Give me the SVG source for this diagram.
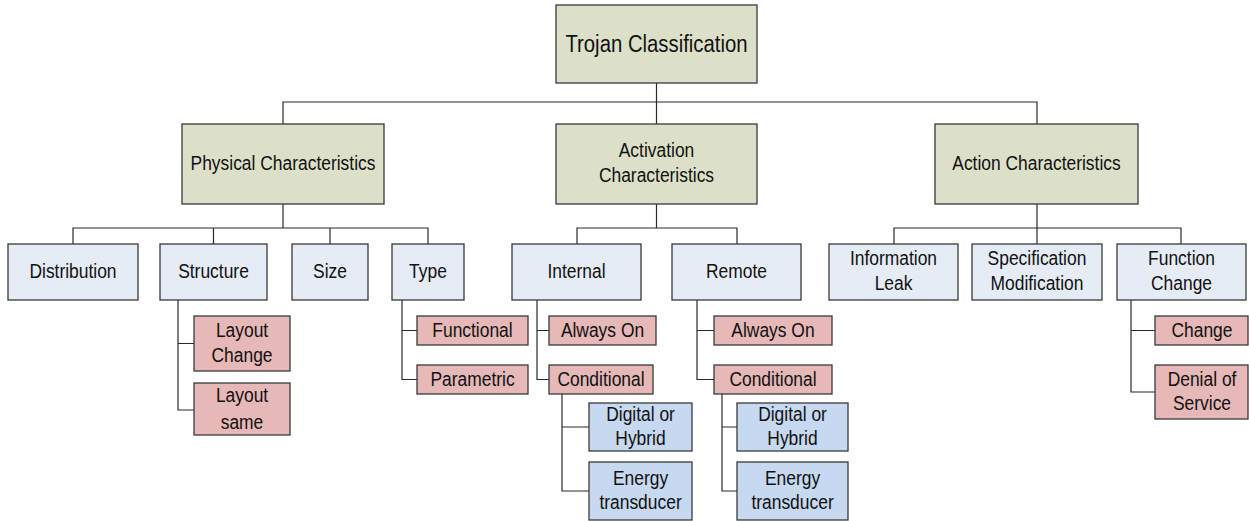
<svg xmlns="http://www.w3.org/2000/svg" width="1249" height="521" viewBox="0 0 1249 521">
  <style>
    rect { stroke: #3a3a3a; stroke-width: 1.3; }
    .g { fill: #dde0c9; }
    .b { fill: #e6ecf6; }
    .p { fill: #e6b8b7; }
    .d { fill: #c6d9f0; }
    /* narrow sans: regular face condensed horizontally about each label's centre */
    text { font-family: "Liberation Sans", Arial, sans-serif; font-size: 21px; fill: #111; text-anchor: middle;
           transform-box: fill-box; transform-origin: center; transform: scaleX(0.83); }
    .big { font-size: 24.5px; }
    #connectors path { fill: none; stroke: #2a2a2a; stroke-width: 1.2; }
  </style>

  <g id="connectors">
    <path d="M656.5 83V124M283 124V102H1037V124"/>
    <path d="M283 204V228M73 244V228H428V244M213.5 228V244M330 228V244"/>
    <path d="M656.5 204V228M577 244V228H737V244"/>
    <path d="M1037 204V244M894 244V228H1181V244"/>
    <path d="M178 300V410H194M178 343.5H194"/>
    <path d="M402 300V379.5H417M402 330.5H417"/>
    <path d="M537 300V379.5H549M537 330.5H549"/>
    <path d="M562 394V491H589M562 427H589"/>
    <path d="M697 300V379.5H714M697 330.5H714"/>
    <path d="M722 394V491H737M722 427H737"/>
    <path d="M1131 300V392H1155M1131 330.5H1155"/>
  </g>

  <g id="root"><rect class="g" x="556" y="5" width="201" height="78"/><text class="big" x="656.5" y="52">Trojan Classification</text></g>

  <g id="physical"><rect class="g" x="182" y="124" width="202" height="80"/><text x="283" y="170">Physical Characteristics</text></g>
  <g id="activation"><rect class="g" x="556" y="124" width="201" height="80"/><text x="656.5" y="157.5">Activation</text><text x="656.5" y="182.5">Characteristics</text></g>
  <g id="action"><rect class="g" x="935" y="124" width="203" height="80"/><text x="1036.5" y="170">Action Characteristics</text></g>

  <g id="distribution"><rect class="b" x="8" y="244" width="130" height="56"/><text x="73" y="278">Distribution</text></g>
  <g id="structure"><rect class="b" x="160" y="244" width="107" height="56"/><text x="213.5" y="278">Structure</text></g>
  <g id="size"><rect class="b" x="292" y="244" width="76" height="56"/><text x="330" y="278">Size</text></g>
  <g id="type"><rect class="b" x="392" y="244" width="72" height="56"/><text x="428" y="278">Type</text></g>
  <g id="internal"><rect class="b" x="512" y="244" width="129" height="56"/><text x="576.5" y="278">Internal</text></g>
  <g id="remote"><rect class="b" x="672" y="244" width="129" height="56"/><text x="736.5" y="278">Remote</text></g>
  <g id="info-leak"><rect class="b" x="829" y="244" width="129" height="56"/><text x="893.5" y="265">Information</text><text x="893.5" y="290">Leak</text></g>
  <g id="spec-mod"><rect class="b" x="972" y="244" width="130" height="56"/><text x="1037" y="265">Specification</text><text x="1037" y="290">Modification</text></g>
  <g id="func-change"><rect class="b" x="1117" y="244" width="129" height="56"/><text x="1181.5" y="265">Function</text><text x="1181.5" y="290">Change</text></g>

  <g id="layout-change"><rect class="p" x="194" y="316" width="96" height="55"/><text x="242" y="337">Layout</text><text x="242" y="362.5">Change</text></g>
  <g id="layout-same"><rect class="p" x="194" y="383" width="96" height="52"/><text x="242" y="402.5">Layout</text><text x="242" y="428.5">same</text></g>

  <g id="functional"><rect class="p" x="417" y="316" width="111" height="29"/><text x="472.5" y="337">Functional</text></g>
  <g id="parametric"><rect class="p" x="417" y="365" width="111" height="29"/><text x="472.5" y="386">Parametric</text></g>

  <g id="int-always-on"><rect class="p" x="549" y="316" width="107" height="29"/><text x="602.5" y="337">Always On</text></g>
  <g id="int-conditional"><rect class="p" x="549" y="365" width="104" height="29"/><text x="601" y="386">Conditional</text></g>
  <g id="int-digital"><rect class="d" x="589" y="403" width="103" height="48"/><text x="640.5" y="421">Digital or</text><text x="640.5" y="445">Hybrid</text></g>
  <g id="int-energy"><rect class="d" x="589" y="462" width="103" height="58"/><text x="640.5" y="485">Energy</text><text x="640.5" y="509.5">transducer</text></g>

  <g id="rem-always-on"><rect class="p" x="714" y="316" width="118" height="29"/><text x="773" y="337">Always On</text></g>
  <g id="rem-conditional"><rect class="p" x="714" y="365" width="118" height="29"/><text x="773" y="386">Conditional</text></g>
  <g id="rem-digital"><rect class="d" x="737" y="403" width="111" height="48"/><text x="792.5" y="421">Digital or</text><text x="792.5" y="445">Hybrid</text></g>
  <g id="rem-energy"><rect class="d" x="737" y="462" width="111" height="58"/><text x="792.5" y="485">Energy</text><text x="792.5" y="509.5">transducer</text></g>

  <g id="change"><rect class="p" x="1155" y="316" width="93" height="29"/><text x="1202" y="337">Change</text></g>
  <g id="denial"><rect class="p" x="1155" y="365" width="93" height="54"/><text x="1202" y="386">Denial of</text><text x="1202" y="410">Service</text></g>
</svg>
